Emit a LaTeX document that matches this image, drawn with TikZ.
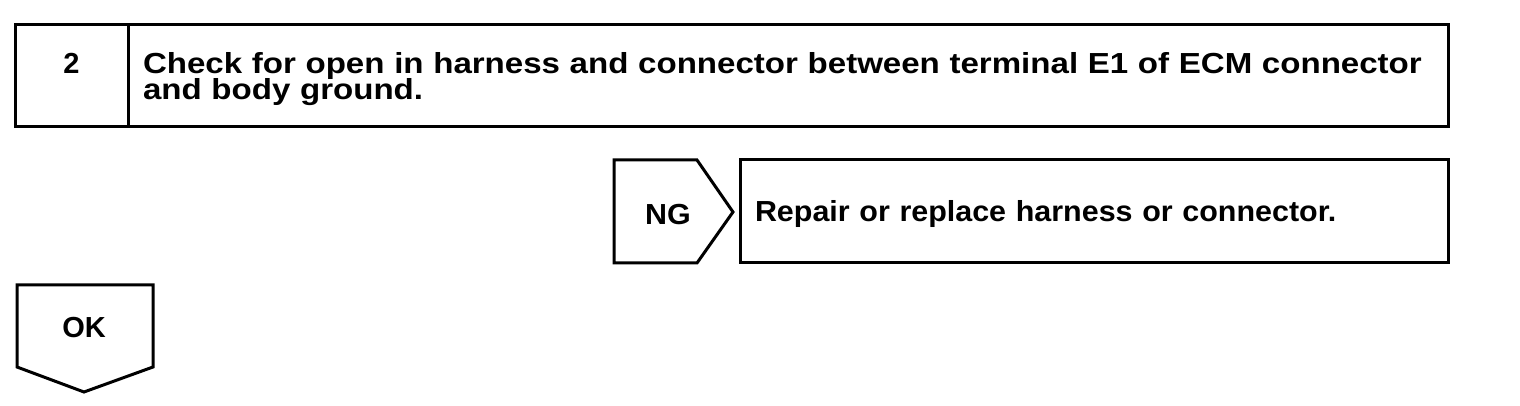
\documentclass[tikz,border=0pt]{standalone}
\usepackage{fontspec}
\setmainfont{Liberation Sans}
\newfontfamily\widefont[FakeStretch=1.14]{Liberation Sans}
\newfontfamily\midfont[FakeStretch=1.05]{Liberation Sans}
\usepackage{tikz}
\usetikzlibrary{positioning, calc}
\newcommand{\boxfont}{\bfseries\fontsize{14.5}{13}\selectfont\lineskiplimit=-20pt}
\tikzset{
  stepcell/.style={rectangle, draw=black, line width=1.5pt, outer sep=0pt,
    inner sep=0pt, text height=10.5pt, text depth=12.5pt, font=\boxfont},
  textcell/.style={rectangle, draw=black, line width=1.5pt, outer sep=0pt,
    inner xsep=7.5pt, inner ysep=0pt, align=left, font=\boxfont},
  tagtext/.style={inner sep=0pt, text height=10.5pt, text depth=0pt, font=\boxfont},
  outline/.style={draw=black, line width=1.5pt, line join=miter}
}
\begin{document}
\begin{tikzpicture}[x=0.5pt, y=-0.5pt]
  \useasboundingbox (0,0) rectangle (1520,406);

  % Step header
  \node[stepcell, minimum width=56.5pt, minimum height=51pt] (num) at (71.5,76) {2};
  \node[textcell, anchor=west, minimum width=660pt, minimum height=51pt,
    text width=645pt, text height=10.5pt, text depth=12.5pt,
    font=\widefont\boxfont] (title) at (num.east)
    {Check for open in harness and connector between terminal E1 of ECM connector\\and body ground.};

  % NG branch
  \node[tagtext, font=\midfont\boxfont] (ng) at (668,214) {NG};
  \draw[outline] ($(ng)+(-54,-54)$) -- ++(83,0) -- ++(36,52) -- ++(-36,51) -- ++(-83,0) -- cycle;
  \node[textcell, minimum width=354pt, minimum height=51.5pt, text width=339pt,
    text height=10.5pt, text depth=0pt, font=\midfont\boxfont]
    (repair) at (1094,211.5) {Repair or replace harness or connector.};

  % OK branch
  \node[tagtext] (ok) at (84,327) {OK};
  \draw[outline] ($(ok)+(-67,-42)$) -- ++(136,0) -- ++(0,82) -- ++(-69,25) -- ++(-67,-25) -- cycle;
\end{tikzpicture}
\end{document}
